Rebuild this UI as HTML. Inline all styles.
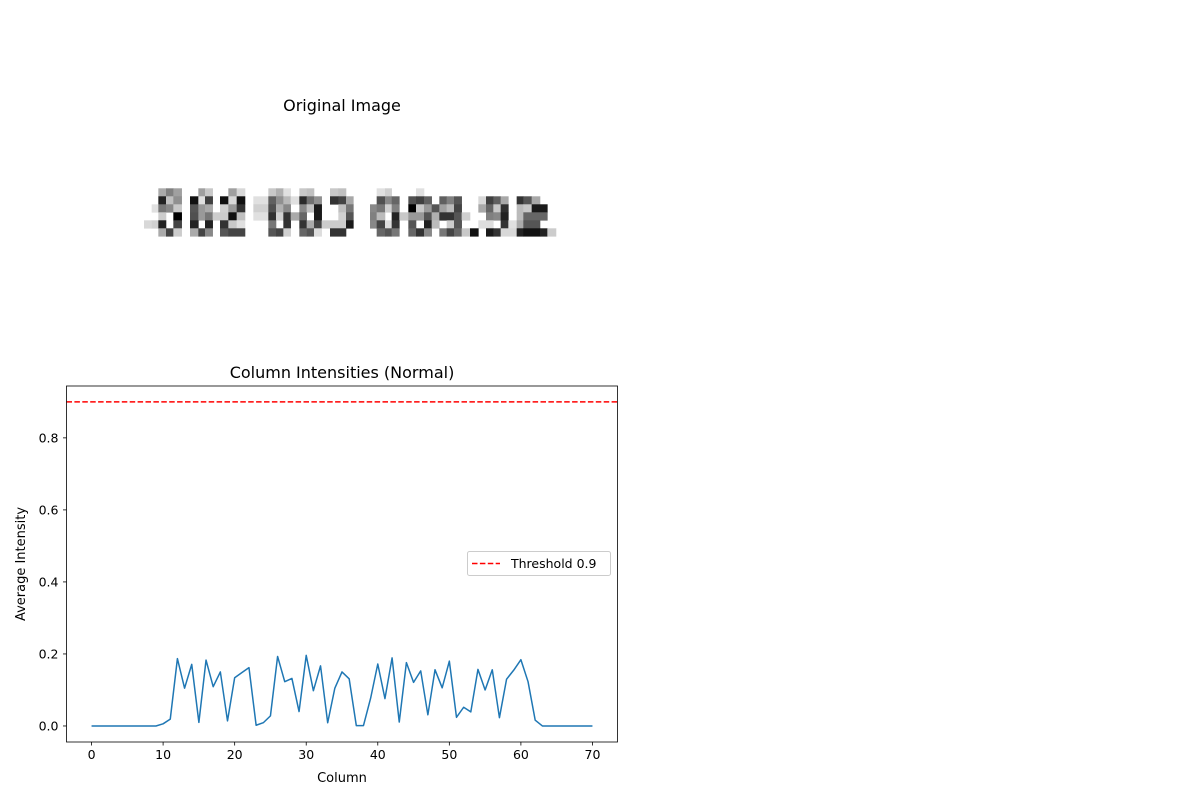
<!DOCTYPE html>
<html><head><meta charset="utf-8"><style>
html,body{margin:0;padding:0;background:#fff;}
svg{display:block;font-family:"DejaVu Sans","Liberation Sans",sans-serif;}
</style></head><body>
<svg id="fig" width="1200" height="800" viewBox="0 0 1200 800">
<rect width="1200" height="800" fill="#fff"/>
<text x="342" y="111" font-size="16" text-anchor="middle">Original Image</text>
<g id="img"></g>
<text x="342" y="378" font-size="16" text-anchor="middle">Column Intensities (Normal)</text>
<g id="chart"></g>
<text x="342" y="782" font-size="13" text-anchor="middle">Column</text>
<text x="25" y="564" font-size="13" text-anchor="middle" transform="rotate(-90 25 564)">Average Intensity</text>
</svg>
<script>
// image pixel blocks: [zoomStart, zoomEnd, gray] per row
const imgRows = [
 [[55,78,"#aaa"],[78,100,"#808080"],[100,125,"#a0a0a0"],[175,195,"#a0a0a0"],[195,218,"#c8c8c8"],[265,290,"#a0a0a0"],[290,315,"#d8d8d8"],[385,408,"#c8c8c8"],[408,430,"#b0b0b0"],[430,452,"#e0e0e0"],[478,500,"#c8c8c8"],[500,522,"#c0c0c0"],[570,595,"#c8c8c8"],[595,618,"#c0c0c0"],[710,735,"#e0e0e0"],[735,755,"#d0d0d0"],[828,852,"#e0e0e0"]],
 [[55,78,"#222"],[78,100,"#c0c0c0"],[100,125,"#909090"],[150,175,"#111"],[175,195,"#e0e0e0"],[195,218,"#404040"],[240,265,"#111"],[265,290,"#d8d8d8"],[290,315,"#111"],[340,385,"#e0e0e0"],[385,408,"#606060"],[408,430,"#909090"],[430,452,"#b8b8b8"],[452,478,"#e0e0e0"],[478,500,"#2a2a2a"],[500,522,"#707070"],[522,545,"#909090"],[570,595,"#333"],[595,618,"#444"],[618,640,"#a8a8a8"],[710,735,"#505050"],[735,755,"#888"],[755,778,"#666"],[805,828,"#505050"],[828,852,"#404040"],[852,875,"#606060"],[898,920,"#606060"],[920,942,"#808080"],[942,965,"#555"],[1015,1038,"#d8d8d8"],[1038,1060,"#404040"],[1060,1082,"#606060"],[1082,1105,"#a8a8a8"],[1130,1150,"#333"],[1150,1175,"#555"],[1175,1200,"#a8a8a8"]],
 [[35,55,"#e0e0e0"],[55,78,"#777"],[78,100,"#888"],[100,125,"#c8c8c8"],[150,175,"#555"],[175,195,"#999"],[195,218,"#aaa"],[240,265,"#d0d0d0"],[265,290,"#999"],[290,315,"#333"],[340,385,"#d0d0d0"],[385,408,"#505050"],[408,430,"#b0b0b0"],[430,452,"#888"],[478,500,"#888"],[500,522,"#c0c0c0"],[522,545,"#1a1a1a"],[595,618,"#c0c0c0"],[618,640,"#777"],[690,710,"#888"],[710,735,"#777"],[735,755,"#d0d0d0"],[755,778,"#808080"],[805,828,"#000"],[828,852,"#c8c8c8"],[852,875,"#999"],[875,898,"#555"],[898,920,"#a0a0a0"],[920,942,"#bbb"],[942,965,"#444"],[1015,1038,"#a8a8a8"],[1038,1060,"#666"],[1060,1082,"#c8c8c8"],[1082,1105,"#303030"],[1130,1150,"#bbb"],[1150,1175,"#c8c8c8"],[1175,1222,"#1a1a1a"]],
 [[55,78,"#ccc"],[100,125,"#000"],[150,175,"#505050"],[175,195,"#999"],[195,218,"#777"],[218,240,"#ccc"],[240,265,"#ccc"],[265,290,"#111"],[290,315,"#c0c0c0"],[340,385,"#e0e0e0"],[385,408,"#303030"],[408,430,"#d0d0d0"],[430,452,"#333"],[452,478,"#aaa"],[478,500,"#666"],[522,545,"#1a1a1a"],[595,618,"#d0d0d0"],[618,640,"#555"],[690,710,"#808080"],[710,735,"#bbb"],[755,778,"#222"],[778,805,"#c8c8c8"],[805,828,"#999"],[828,852,"#999"],[852,875,"#555"],[875,898,"#b0b0b0"],[898,942,"#333"],[942,965,"#555"],[965,990,"#d0d0d0"],[1038,1060,"#808080"],[1060,1082,"#888"],[1082,1105,"#222"],[1130,1150,"#bbb"],[1150,1222,"#666"]],
 [[12,35,"#d8d8d8"],[35,55,"#d0d0d0"],[55,78,"#222"],[100,125,"#444"],[150,175,"#222"],[195,218,"#222"],[240,265,"#333"],[265,290,"#c8c8c8"],[290,315,"#e0e0e0"],[385,408,"#777"],[430,452,"#333"],[478,500,"#333"],[500,522,"#aaa"],[522,545,"#444"],[545,618,"#ccc"],[618,640,"#1a1a1a"],[690,710,"#888"],[710,735,"#444"],[735,755,"#ddd"],[755,778,"#333"],[805,828,"#555"],[852,875,"#222"],[875,898,"#bbb"],[920,942,"#ccc"],[942,965,"#555"],[1015,1060,"#ddd"],[1082,1105,"#333"],[1105,1130,"#e0e0e0"],[1130,1150,"#aaa"],[1150,1200,"#555"]],
 [[55,78,"#aaa"],[78,100,"#444"],[100,125,"#ccc"],[150,175,"#aaa"],[175,195,"#444"],[195,218,"#888"],[240,265,"#555"],[265,315,"#444"],[385,408,"#555"],[408,430,"#444"],[430,452,"#d0d0d0"],[478,500,"#666"],[500,522,"#555"],[522,545,"#ddd"],[570,618,"#333"],[710,735,"#666"],[735,755,"#555"],[755,778,"#777"],[805,828,"#666"],[828,852,"#333"],[852,875,"#888"],[898,920,"#777"],[920,942,"#444"],[942,965,"#666"],[965,990,"#c8c8c8"],[990,1015,"#111"],[1038,1060,"#1a1a1a"],[1060,1082,"#333"],[1082,1130,"#d8d8d8"],[1130,1150,"#222"],[1150,1200,"#111"],[1200,1222,"#222"],[1222,1248,"#ccc"]]
];
const NS="http://www.w3.org/2000/svg";
const img=document.getElementById('img');
imgRows.forEach((row,ri)=>{row.forEach(b=>{
  const r=document.createElementNS(NS,'rect');
  r.setAttribute('x',140+b[0]/3);r.setAttribute('width',(b[1]-b[0])/3+0.3);
  r.setAttribute('y',188.3+ri*8);r.setAttribute('height',8.3);r.setAttribute('fill',b[2]);
  
  
  img.appendChild(r);});});

// chart data
const columns = Array.from({length:71},(_,i)=>i);
const intensities = [0,0,0,0,0,0,0,0,0,0,0.006,0.019,0.187,0.105,0.171,0.010,0.183,0.109,0.150,0.014,0.134,0.148,0.162,0.002,0.009,0.028,0.193,0.123,0.132,0.040,0.196,0.098,0.167,0.009,0.105,0.150,0.131,0.001,0.001,0.077,0.172,0.076,0.189,0.011,0.176,0.121,0.153,0.031,0.156,0.106,0.180,0.024,0.052,0.039,0.157,0.100,0.156,0.023,0.130,0.155,0.184,0.123,0.016,0,0,0,0,0,0,0,0];
const threshold = 0.9;
const xTicks = [0,10,20,30,40,50,60,70];
const yTicks = [0.0,0.2,0.4,0.6,0.8];

const L=66.5,R=617.5,T=386,B=742;
const xMin=-3.5,xMax=73.5,yMin=-0.0445,yMax=0.944;
const sx=v=>L+(v-xMin)/(xMax-xMin)*(R-L);
const sy=v=>B-(v-yMin)/(yMax-yMin)*(B-T);
const ch=document.getElementById('chart');
function el(t,a,p){const e=document.createElementNS(NS,t);for(const k in a)e.setAttribute(k,a[k]);(p||ch).appendChild(e);return e;}

const thr=el('line',{x1:L,x2:R,y1:sy(threshold),y2:sy(threshold),stroke:'#ff0000','stroke-width':1.5,'stroke-dasharray':'5.5,2.4'});


const pts=columns.map((c,i)=>sx(c).toFixed(2)+','+sy(intensities[i]).toFixed(2)).join(' ');
const ln=el('polyline',{points:pts,fill:'none',stroke:'#1f77b4','stroke-width':1.5,'stroke-linejoin':'round'});



xTicks.forEach(t=>{const x=sx(t);
  el('line',{x1:x,x2:x,y1:B,y2:B+3.5,stroke:'#000','stroke-width':0.8});
  const tx=el('text',{x:x,y:B+17,'font-size':12.5,'text-anchor':'middle'});tx.textContent=t;
  
  });
yTicks.forEach(t=>{const y=sy(t);
  el('line',{x1:L,x2:L-3.5,y1:y,y2:y,stroke:'#000','stroke-width':0.8});
  const tx=el('text',{x:L-8,y:y+4.5,'font-size':12.5,'text-anchor':'end'});tx.textContent=t.toFixed(1);
  
  });
const frame=el('rect',{x:L,y:T,width:R-L,height:B-T,fill:'none',stroke:'#000','stroke-width':0.8});



const lg=el('g',{});


el('rect',{x:467.5,y:551.5,width:143,height:24,rx:2,fill:'#fff',stroke:'#ccc','stroke-width':1},lg);
el('line',{x1:472,x2:500,y1:563.5,y2:563.5,stroke:'#ff0000','stroke-width':1.5,'stroke-dasharray':'5.5,2.4'},lg);
const lt=el('text',{x:511,y:568,'font-size':12.5},lg);lt.textContent='Threshold 0.9';


</script>
</body></html>
